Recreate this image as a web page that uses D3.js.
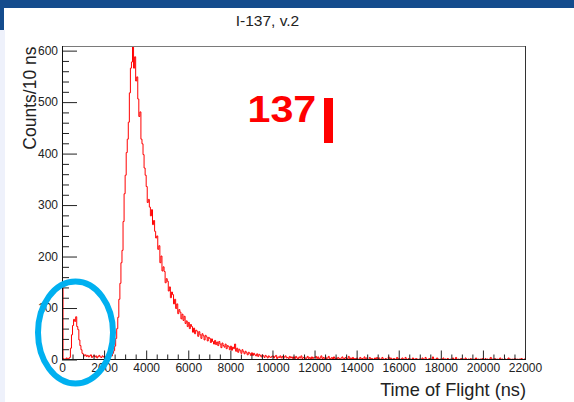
<!DOCTYPE html>
<html>
<head>
<meta charset="utf-8">
<script src="https://cdn.jsdelivr.net/npm/d3@7"></script>
<style>
  html, body { margin: 0; padding: 0; background: #fff; }
  svg { display: block; font-family: "Liberation Sans", Arial, sans-serif; }
</style>
</head>
<body>
<svg id="chart" width="574" height="402"></svg>
<script>
// ---- texts ----
const chartTitle = "I-137, v.2";
const xTitle = "Time of Flight (ns)";
const yTitle = "Counts/10 ns";
const isotopeLabel = "137";

// ---- axes ----
const xMajorTicks = [0, 2000, 4000, 6000, 8000, 10000, 12000, 14000, 16000, 18000, 20000, 22000];
const yMajorTicks = [0, 100, 200, 300, 400, 500, 600];

// ---- histogram: counts per 10 ns, one entry every 50 ns ----
const binWidth = 50;
// 0 - 2000 ns (prompt bump)
const promptCounts = [
  140, 2, 0, 1, 3, 0, 2, 4, 22, 48, 66, 78, 74, 83, 64, 58, 38, 27, 19, 12,
  10, 7, 9, 6, 8, 5, 7, 9, 4, 6, 8, 5, 7, 3, 6, 8, 5, 4, 7, 5
];
// 2000 - 4000 ns (rise and main peak)
const peakCounts = [
  6, 4, 7, 5, 8, 6, 9, 7, 12, 17, 26, 41, 60, 82, 117, 148, 188, 212, 268, 322,
  358, 402, 428, 461, 518, 566, 578, 612, 566, 588, 541, 549, 506, 472, 481, 428, 419, 398, 372, 358
];
// 4000 - 10000 ns (decay)
const decayCounts = [
  336, 305, 311, 296, 279, 291, 262, 270, 249, 236, 240, 214, 221, 188, 201, 172, 180, 171, 149, 157,
  152, 133, 141, 120, 131, 126, 108, 117, 99, 108, 89, 97, 92, 79, 88, 76, 84, 70, 75, 64,
  72, 60, 68, 64, 53, 61, 50, 57, 55, 45, 54, 48, 41, 50, 46, 38, 47, 44, 36, 43,
  41, 33, 40, 35, 30, 37, 29, 34, 27, 35, 30, 23, 32, 27, 24, 30, 21, 27, 25, 19,
  26, 18, 24, 21, 30, 16, 22, 14, 20, 17, 12, 19, 15, 11, 16, 13, 9, 14, 12, 8,
  13, 8, 12, 9, 7, 11, 6, 10, 8, 5, 9, 7, 4, 8, 6, 3, 7, 5, 4, 6
];
// 10000 - 22000 ns (flat tail)
const tailCounts = [
  7, 3, 6, 8, 2, 5, 4, 7, 3, 6, 2, 5, 7, 3, 4, 2, 6, 3, 5, 2,
  5, 2, 6, 3, 1, 5, 3, 7, 2, 4, 5, 1, 3, 6, 2, 4, 1, 5, 2, 4,
  4, 6, 2, 5, 1, 3, 7, 2, 4, 1, 5, 2, 3, 6, 1, 2, 4, 1, 5, 2,
  3, 1, 4, 2, 0, 3, 5, 1, 2, 4, 1, 2, 6, 1, 3, 0, 4, 1, 2, 1,
  3, 0, 1, 4, 1, 2, 0, 5, 1, 3, 1, 0, 4, 1, 2, 1, 0, 3, 1, 4,
  1, 3, 0, 1, 4, 1, 0, 2, 1, 0, 5, 1, 3, 0, 1, 2, 1, 0, 4, 1,
  2, 0, 1, 3, 1, 0, 4, 1, 0, 2, 1, 1, 0, 3, 1, 0, 2, 1, 0, 1,
  1, 0, 3, 1, 0, 4, 1, 0, 1, 2, 0, 1, 5, 0, 1, 0, 3, 1, 0, 1,
  0, 1, 3, 0, 1, 0, 2, 1, 0, 1, 0, 3, 1, 0, 4, 0, 1, 0, 1, 2,
  0, 1, 0, 3, 1, 0, 1, 0, 2, 0, 1, 0, 1, 3, 0, 1, 0, 1, 0, 2,
  1, 0, 2, 0, 1, 0, 1, 4, 0, 1, 0, 2, 0, 1, 0, 1, 3, 0, 1, 0,
  0, 1, 0, 1, 3, 0, 1, 0, 1, 0, 2, 0, 1, 0, 1, 0, 2, 1, 0, 1
];

const counts = [...promptCounts, ...peakCounts, ...decayCounts, ...tailCounts];
const bins = counts.map((c, i) => ({ t: i * binWidth, c }));

// ---- layout ----
const frame = { left: 62, right: 525, top: 46, bottom: 359.5 };
const svg = d3.select("#chart");

const x = d3.scaleLinear().domain([0, 22000]).range([frame.left, frame.right]);
const y = d3.scaleLinear().domain([0, 609]).range([frame.bottom, frame.top]);

// slide decoration
svg.append("rect").attr("x", 0).attr("y", 0).attr("width", 574).attr("height", 8).attr("fill", "#144c8d");
svg.append("rect").attr("x", 0).attr("y", 8).attr("width", 4).attr("height", 22).attr("fill", "#144c8d");
svg.append("rect").attr("x", 0).attr("y", 30).attr("width", 5).attr("height", 372).attr("fill", "#eef1fb");

// clip for the histogram
svg.append("clipPath").attr("id", "plotClip")
  .append("rect")
  .attr("x", frame.left).attr("y", frame.top)
  .attr("width", frame.right - frame.left).attr("height", frame.bottom - frame.top);

// histogram outline, starting from the baseline at t = 0
const line = d3.line()
  .x(d => x(d.t))
  .y(d => y(d.c))
  .curve(d3.curveStepAfter);
const outline = bins.concat([{ t: 22000, c: bins[bins.length - 1].c }]);
const pathD = "M" + x(0) + "," + y(0) + line(outline).replace(/^M/, "L");
svg.append("path")
  .attr("d", pathD)
  .attr("clip-path", "url(#plotClip)")
  .attr("fill", "none")
  .attr("stroke", "#ff0000")
  .attr("stroke-width", 1);

// frame: top and right edges
svg.append("line").attr("x1", frame.left).attr("x2", frame.right + 0.5)
  .attr("y1", frame.top + 0.5).attr("y2", frame.top + 0.5)
  .attr("stroke", "#7a7a7a").attr("stroke-width", 1);
svg.append("line").attr("x1", frame.right + 0.5).attr("x2", frame.right + 0.5)
  .attr("y1", frame.top).attr("y2", frame.bottom)
  .attr("stroke", "#333").attr("stroke-width", 1);

// x axis
const xMinor = d3.range(0, 22001, 500).filter(v => v % 2000 !== 0);
const gxMinor = svg.append("g").attr("transform", `translate(0,${frame.bottom})`)
  .call(d3.axisBottom(x).tickValues(xMinor).tickSize(-5).tickFormat(""));
const gx = svg.append("g").attr("transform", `translate(0,${frame.bottom})`)
  .call(d3.axisBottom(x).tickValues(xMajorTicks).tickSize(-9).tickPadding(4).tickFormat(d3.format("d")));
[gxMinor, gx].forEach(g => {
  g.select(".domain").remove();
  g.selectAll(".tick line").attr("stroke", "#222");
});
gx.selectAll(".tick text").attr("font-size", 12).attr("fill", "#222")
  .attr("font-family", "Liberation Sans, Arial, sans-serif");
svg.append("line").attr("x1", frame.left).attr("x2", frame.right + 1)
  .attr("y1", frame.bottom).attr("y2", frame.bottom)
  .attr("stroke", "#111").attr("stroke-width", 1);

// y axis
const yMinor = d3.range(0, 609, 20).filter(v => v % 100 !== 0);
const gyMinor = svg.append("g").attr("transform", `translate(${frame.left},0)`)
  .call(d3.axisLeft(y).tickValues(yMinor).tickSize(-7).tickFormat(""));
const gy = svg.append("g").attr("transform", `translate(${frame.left},0)`)
  .call(d3.axisLeft(y).tickValues(yMajorTicks).tickSize(-15).tickPadding(4).tickFormat(d3.format("d")));
[gyMinor, gy].forEach(g => {
  g.select(".domain").remove();
  g.selectAll(".tick line").attr("stroke", "#222");
});
gy.selectAll(".tick text").attr("font-size", 12).attr("fill", "#222")
  .attr("font-family", "Liberation Sans, Arial, sans-serif");
svg.append("line").attr("x1", frame.left + 0.5).attr("x2", frame.left + 0.5)
  .attr("y1", frame.top).attr("y2", frame.bottom + 0.5)
  .attr("stroke", "#111").attr("stroke-width", 1);

// titles
svg.append("text").attr("x", 267.5).attr("y", 26).attr("text-anchor", "middle")
  .attr("font-size", 15.5).attr("fill", "#222").text(chartTitle);
svg.append("text").attr("x", 526).attr("y", 395.5).attr("text-anchor", "end")
  .attr("font-size", 18.2).attr("fill", "#222").text(xTitle);
svg.append("text").attr("transform", "translate(36,46.5) rotate(-90)").attr("text-anchor", "end")
  .attr("font-size", 17.5).attr("fill", "#222").text(yTitle);

// isotope label with marker bar
svg.append("text").attr("transform", "translate(247.5,121.7) scale(1.1,1)")
  .attr("font-size", 37.5).attr("font-weight", "bold").attr("fill", "#ff0000").text(isotopeLabel);
svg.append("rect").attr("x", 324).attr("y", 98).attr("width", 9).attr("height", 45).attr("fill", "#ff0000");

// highlight around the prompt bump
svg.append("ellipse").attr("cx", 75.5).attr("cy", 332.5).attr("rx", 37.5).attr("ry", 51)
  .attr("fill", "none").attr("stroke", "#00b0f0").attr("stroke-width", 6);
</script>
</body>
</html>
